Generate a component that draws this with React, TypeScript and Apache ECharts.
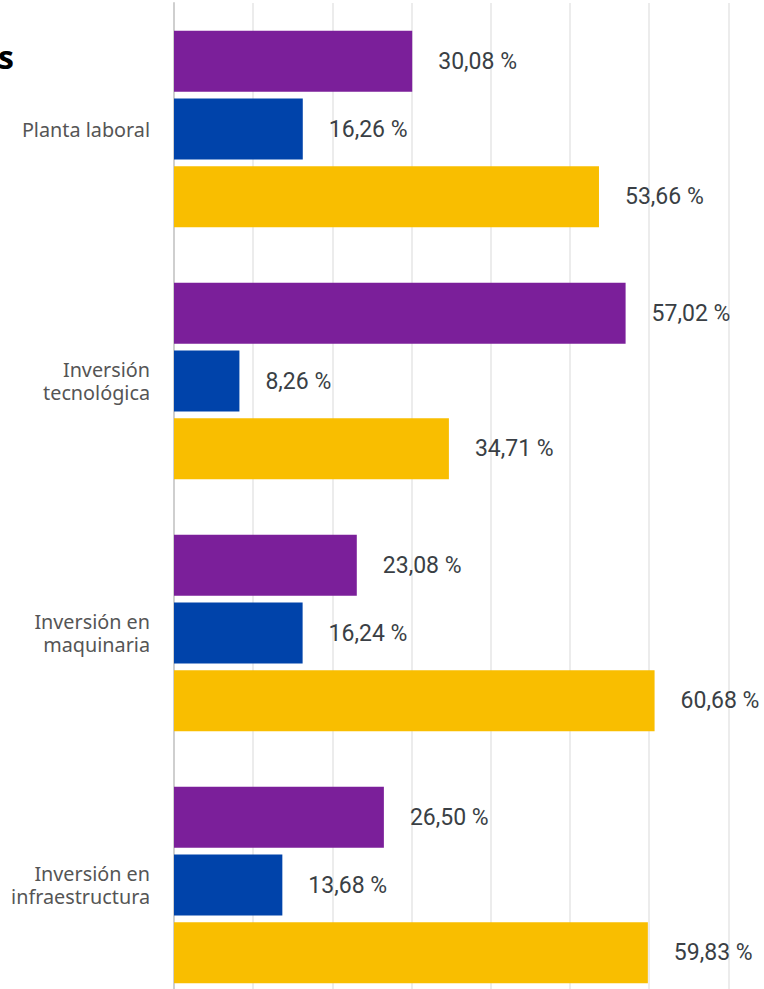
import React, { useEffect, useRef } from "react";
import * as echarts from "echarts";

const categories = ["Planta laboral", "Inversión\ntecnológica", "Inversión en\nmaquinaria", "Inversión en\ninfraestructura"];
const seriesA = [30.08, 57.02, 23.08, 26.5];
const seriesB = [16.26, 8.26, 16.24, 13.68];
const seriesC = [53.66, 34.71, 60.68, 59.83];
const colors = ["#7b1f9a", "#0043aa", "#f9be00"];

export default function App() {
  const ref = useRef<HTMLDivElement>(null);
  useEffect(() => {
    const chart = echarts.init(ref.current!, null, { renderer: "svg" });
    const label = {
      show: true,
      position: "right",
      distance: 26,
      fontFamily: "Roboto, 'Noto Sans', sans-serif",
      fontSize: 23,
      color: "#3a3f45",
      formatter: (p: any) => p.value.toFixed(2).replace(".", ",") + " %",
    };
    const mk = (data: number[], i: number) => ({
      type: "bar",
      data,
      barWidth: 61,
      barGap: "11%",
      itemStyle: { color: colors[i] },
      label,
    });
    chart.setOption({
      animation: false,
      grid: { left: 174, width: 792, top: 3, height: 1008, containLabel: false, outerBoundsMode: "none" },
      xAxis: {
        type: "value",
        min: 0,
        max: 100,
        interval: 10,
        axisLabel: { show: false },
        axisLine: { show: false },
        axisTick: { show: false },
        splitLine: { lineStyle: { color: "#e6e6e6", width: 1.5 } },
      },
      yAxis: {
        type: "category",
        inverse: true,
        data: categories,
        axisTick: { show: false },
        axisLine: { show: true, lineStyle: { color: "#cfcfcf", width: 2 } },
        axisLabel: {
          margin: 24,
          fontFamily: "'Noto Sans', sans-serif",
          fontSize: 19.8,
          lineHeight: 23,
          color: "#555",
          align: "right",
        },
      },
      graphic: [
        {
          type: "text",
          left: -2,
          top: 40,
          style: { text: "s", fontSize: 32, fontWeight: "bold", fontFamily: "'Open Sans', sans-serif", fill: "#000" },
        },
      ],
      series: [mk(seriesA, 0), mk(seriesB, 1), mk(seriesC, 2)],
    });
    return () => chart.dispose();
  }, []);
  return <div ref={ref} style={{ width: 764, height: 989, position: "absolute", left: 0, top: 0, overflow: "hidden" }} />;
}
